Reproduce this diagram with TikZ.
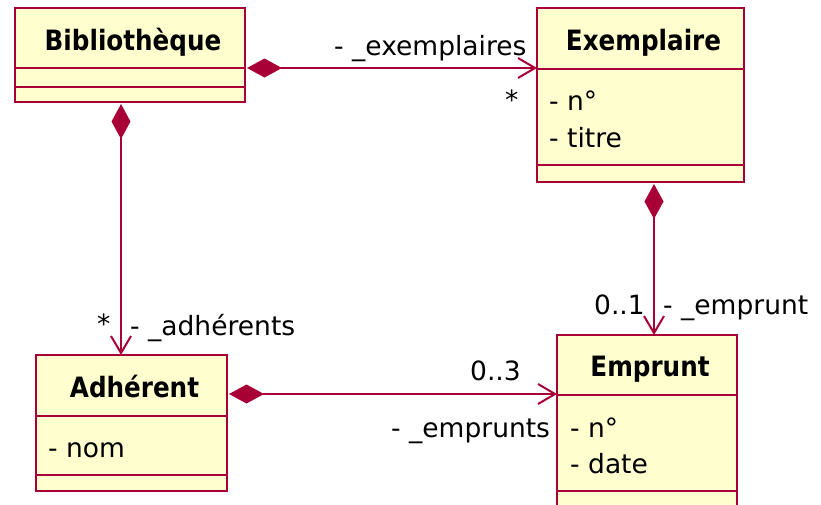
\documentclass[tikz,border=0pt]{standalone}
\usepackage{fontspec}
\setmainfont{DejaVu Sans}[BoldFeatures={FakeStretch=0.88}]
\usetikzlibrary{arrows.meta,calc}
\definecolor{umlline}{HTML}{A80036}
\definecolor{umlfill}{HTML}{FEFECE}

\begin{document}
\begin{tikzpicture}[x=1pt,y=-1pt,
  classbox/.style={draw=umlline, fill=umlfill, line width=2pt, inner sep=0pt, outer sep=0pt, anchor=north west},
  divider/.style={draw=umlline, line width=2pt},
  classname/.style={font=\fontsize{28}{32}\selectfont\bfseries, inner sep=0pt, anchor=base},
  attr/.style={font=\fontsize{26.5}{30}\selectfont, inner sep=0pt, anchor=base west},
  lbl/.style={font=\fontsize{26.5}{30}\selectfont, inner sep=0pt, anchor=base west},
  assoc/.style={draw=umlline, line width=2pt,
    {Diamond[length=35pt,width=19pt,fill=umlline]}-{Straight Barb[length=17pt,width=20pt]}}
]
\path[use as bounding box, clip] (0,0) rectangle (821,504);

% Bibliothèque
\node[classbox, minimum width=230pt, minimum height=94pt] (biblio) at (15,8) {};
\draw[divider] ($(biblio.north west)+(0,60)$) -- ($(biblio.north east)+(0,60)$);
\draw[divider] ($(biblio.north west)+(0,79)$) -- ($(biblio.north east)+(0,79)$);
\node[classname] (biblioT) at ($(biblio.north)+(3,42)$) {Bibliothèque};

% Exemplaire
\node[classbox, minimum width=207pt, minimum height=174pt] (exemp) at (537,8) {};
\draw[divider] ($(exemp.north west)+(0,61)$) -- ($(exemp.north east)+(0,61)$);
\draw[divider] ($(exemp.north west)+(0,157)$) -- ($(exemp.north east)+(0,157)$);
\node[classname] (exempT) at ($(exemp.north)+(3,42)$) {Exemplaire};
\node[attr] (exempA1) at ($(exemp.north west)+(12,102)$) {- n°};
\node[attr] (exempA2) at ($(exemp.north west)+(12,139)$) {- titre};

% Adhérent
\node[classbox, minimum width=191pt, minimum height=136pt] (adher) at (36,355) {};
\draw[divider] ($(adher.north west)+(0,61)$) -- ($(adher.north east)+(0,61)$);
\draw[divider] ($(adher.north west)+(0,120)$) -- ($(adher.north east)+(0,120)$);
\node[classname] (adherT) at ($(adher.north)+(3,42)$) {Adhérent};
\node[attr] (adherA1) at ($(adher.north west)+(12,102)$) {- nom};

% Emprunt
\node[classbox, minimum width=180pt, minimum height=185pt] (empr) at (557,335) {};
\draw[divider] ($(empr.north west)+(0,60)$) -- ($(empr.north east)+(0,60)$);
\draw[divider] ($(empr.north west)+(0,156)$) -- ($(empr.north east)+(0,156)$);
\node[classname] (emprT) at ($(empr.north)+(3,41)$) {Emprunt};
\node[attr] (emprA1) at ($(empr.north west)+(13,102)$) {- n°};
\node[attr] (emprA2) at ($(empr.north west)+(13,138)$) {- date};

% Compositions
\coordinate (c1) at ($(biblio.north east)+(2,60)$);
\draw[assoc] (c1) -- (c1 -| exemp.west);
\coordinate (c2) at ($(biblio.south west)+(106,2)$);
\draw[assoc] (c2) -- (c2 |- adher.north);
\coordinate (c3) at ($(exemp.south west)+(117,2)$);
\draw[assoc] (c3) -- (c3 |- empr.north);
\coordinate (c4) at ($(adher.north east)+(2,39)$);
\draw[assoc] (c4) -- (c4 -| empr.west);

% Role names and multiplicities
\node[lbl] (l1) at (334,55) {- \_exemplaires};
\node[lbl] (m1) at (505,109) {*};
\node[lbl] (l2) at (130,335) {- \_adhérents};
\node[lbl] (m2) at (97,333) {*};
\node[lbl] (m3) at (594,314) {0..1};
\node[lbl] (l3) at (663,314) {- \_emprunt};
\node[lbl] (m4) at (470,380) {0..3};
\node[lbl] (l4) at (391,437) {- \_emprunts};
\end{tikzpicture}
\end{document}
